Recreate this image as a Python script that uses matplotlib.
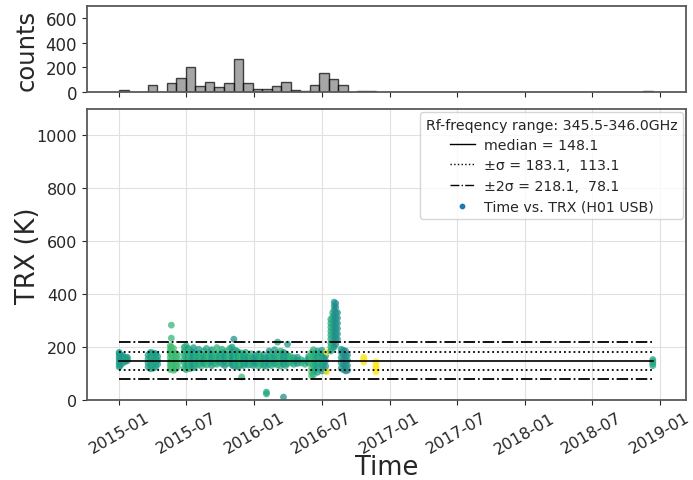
import matplotlib
matplotlib.use("Agg")
import matplotlib.pyplot as plt
import numpy as np
import pandas as pd

# DONNEES

t0 = pd.Timestamp("2015-01-01")  # origine des jours d'observation

# histogramme du haut : numero de bin -> nombre de points
bin_width = 25.75  # jours
n_bins = 56
hist_bins = [0, 3, 5, 6, 7, 8, 9, 10, 11, 12, 13, 14, 15, 16, 17, 18, 19, 20, 21, 22, 23, 25, 26, 55]
hist_counts = [17, 58, 77, 110, 200, 50, 83, 41, 69, 272, 74, 25, 25, 50, 83, 19, 8, 58, 151, 102, 58, 6, 6, 8]

# sessions d'observation : jour (depuis 2015-01-01), valeurs TRX (K), couleur (0-1 viridis)
obs_day = [0, 3, 10, 16, 22,
           78, 85, 92, 99, 104,
           138, 141, 147, 153, 158,
           176, 181, 186, 191, 196, 201, 208, 215, 222, 229, 236, 243, 250, 257, 264, 271,
           278, 285, 292, 299, 305, 310, 314, 318, 322, 326, 331, 336, 342, 349, 356, 363,
           370, 377, 384, 391, 398, 405, 412, 420, 428, 436, 444, 450, 455, 463, 472, 482,
           492, 502, 512,
           520, 525, 530, 536, 543, 548, 553, 558, 561,
           572, 577, 581, 585, 590,
           600, 606, 612, 617,
           661, 694, 1442]
obs_trx = [[125, 135, 145, 155, 165, 175, 180], [130, 150, 160, 170], [140, 150, 160, 168],
           [145, 152, 160], [148, 155, 162],
           [125, 140, 155, 170], [118, 130, 145, 160, 175, 180], [120, 135, 150, 165, 178],
           [125, 140, 155, 170, 175], [135, 150, 165],
           [205, 190, 175, 160, 145, 130, 115], [283, 234, 200, 185, 170, 150, 135, 120],
           [195, 180, 165, 150, 135, 120, 112], [175, 160, 145, 130, 118], [170, 155, 140, 125],
           [120, 140, 155, 170, 185, 200], [115, 130, 145, 160, 175, 190, 205],
           [125, 138, 150, 162, 178, 195], [118, 135, 148, 158, 170, 188],
           [128, 142, 155, 168, 182], [122, 137, 150, 165, 180, 198], [130, 145, 158, 172],
           [135, 150, 163, 178, 192], [128, 142, 156, 170], [138, 150, 165, 185],
           [132, 148, 160, 175, 195], [140, 155, 168, 182], [130, 145, 158, 172, 190],
           [138, 152, 166], [135, 150, 162, 178, 198], [142, 156, 170],
           [136, 150, 164, 180, 192], [130, 145, 160, 175], [138, 152, 168, 185],
           [140, 155, 170, 195], [132, 148, 162, 178, 200], [128, 142, 155, 168, 182, 230],
           [135, 148, 160, 175, 188], [130, 145, 158, 172, 185], [125, 140, 152, 165, 180],
           [132, 146, 160, 175], [87, 135, 150, 162, 178], [130, 145, 158, 170],
           [138, 152, 165, 180], [132, 146, 160], [135, 150, 165, 175], [130, 145, 158],
           [138, 150, 168], [128, 145, 160, 175], [135, 150, 162], [130, 142, 155, 170],
           [23, 30, 128, 145, 160], [135, 150, 165, 185], [130, 148, 160, 175],
           [138, 152, 168, 190], [132, 146, 160, 178, 219], [128, 142, 155, 170, 185],
           [11, 135, 150, 165, 180], [130, 145, 160, 175], [138, 152, 168, 211],
           [140, 155, 165], [135, 148, 160], [138, 150, 162],
           [140, 152], [135, 148], [140, 155, 165],
           [92, 105, 120, 140, 160, 180], [95, 110, 130, 150, 170, 190], [115, 135, 155, 175],
           [105, 125, 145, 165, 185], [120, 140, 160, 178], [110, 130, 150, 170, 188],
           [118, 138, 158, 175], [110, 128, 148, 168], [106, 181],
           [185, 200, 215, 230, 245, 260, 275, 290, 305],
           [195, 210, 225, 240, 255, 270, 285, 300, 315, 330],
           [200, 220, 240, 260, 280, 300, 320, 340, 355, 370],
           [210, 230, 250, 270, 290, 310, 330, 350, 365],
           [230, 250, 270, 290, 310, 330],
           [120, 140, 160, 180, 192], [115, 135, 155, 175, 188], [110, 128, 148, 168, 185],
           [112, 130, 150, 170],
           [143, 150, 157, 162], [106, 115, 125, 135, 145], [130, 138, 146, 153]]
obs_col = [0.55, 0.55, 0.52, 0.58, 0.55,
           0.57, 0.55, 0.6, 0.55, 0.57,
           0.7, 0.67, 0.72, 0.65, 0.7,
           0.6, 0.65, 0.55, 0.67, 0.6, 0.53, 0.63, 0.57, 0.65, 0.55, 0.61, 0.67, 0.55, 0.6, 0.65, 0.57,
           0.63, 0.53, 0.6, 0.67, 0.55, 0.5, 0.6, 0.65, 0.55, 0.63, 0.67, 0.55, 0.6, 0.53, 0.65, 0.57,
           0.5, 0.6, 0.65, 0.55, 0.6, 0.53, 0.63, 0.55, 0.6, 0.65, 0.5, 0.6, 0.55, 0.65, 0.6, 0.53,
           0.6, 0.65, 0.55,
           0.7, 0.65, 0.6, 0.55, 0.63, 0.55, 0.6, 0.5, 1.0,
           0.6, 0.65, 0.55, 0.47, 0.5,
           0.55, 0.5, 0.45, 0.5,
           1.0, 1.0, 0.6]

# statistiques
median = 148.1
sigma_hi, sigma_lo = 183.1, 113.1
sigma2_hi, sigma2_lo = 218.1, 78.1
freq_range = "345.5-346.0GHz"
label_scatter = "Time vs. TRX (H01 USB)"

# STYLE
plt.rcParams["font.family"] = "DejaVu Sans"
plt.rcParams["text.color"] = "0.15"
plt.rcParams["axes.labelcolor"] = "0.15"
plt.rcParams["xtick.color"] = "0.15"
plt.rcParams["ytick.color"] = "0.15"
plt.rcParams["axes.edgecolor"] = "0.35"
plt.rcParams["axes.linewidth"] = 1.3

fig = plt.figure(figsize=(6.93, 4.81), dpi=100)
ax_h = fig.add_axes([0.1255, 0.8067, 0.864, 0.1788])
ax = fig.add_axes([0.1255, 0.1663, 0.864, 0.605], sharex=ax_h)

# HISTOGRAMME
starts = [t0 + pd.Timedelta(days=b * bin_width) for b in hist_bins]
ax_h.bar(starts, hist_counts, width=bin_width, align="edge",
         color="gray", alpha=0.7, edgecolor="k", linewidth=1)
ax_h.set_ylim(0, 700)
ax_h.set_yticks([0, 200, 400, 600])
ax_h.set_ylabel("counts", fontsize=17.5)
ax_h.yaxis.set_label_coords(-0.08, 0.5)
ax_h.tick_params(labelbottom=False, labelsize=12)

# NUAGE DE POINTS
xs, ys, cs = [], [], []
for d, vals, c in zip(obs_day, obs_trx, obs_col):
    for v in vals:
        xs.append(t0 + pd.Timedelta(days=d))
        ys.append(v)
        cs.append(c)
ax.scatter(xs, ys, c=cs, cmap="viridis", vmin=0, vmax=1, s=24, alpha=0.75,
           linewidths=0, zorder=2)
ax.scatter([], [], s=10, color="C0", label=label_scatter)

x_line = [t0 + pd.Timedelta(days=obs_day[0]), t0 + pd.Timedelta(days=obs_day[-1])]
ax.plot(x_line, [median, median], color="k", lw=1.2, zorder=3,
        label="median = %.1f" % median)
ax.plot(x_line, [sigma_hi, sigma_hi], color="k", ls=":", lw=1.3, zorder=3,
        label="\u00b1\u03c3 = %.1f,  %.1f" % (sigma_hi, sigma_lo))
ax.plot(x_line, [sigma_lo, sigma_lo], color="k", ls=":", lw=1.3, zorder=3)
ax.plot(x_line, [sigma2_hi, sigma2_hi], color="k", ls="-.", lw=1.3, zorder=3,
        label="\u00b12\u03c3 = %.1f,  %.1f" % (sigma2_hi, sigma2_lo))
ax.plot(x_line, [sigma2_lo, sigma2_lo], color="k", ls="-.", lw=1.3, zorder=3)

ax.set_ylim(0, 1100)
ax.set_xlim(t0 - pd.Timedelta(days=87), t0 + pd.Timedelta(days=1531))
ax.grid(color="0.88", lw=0.8)
ax.set_axisbelow(True)
ax.set_xlabel("Time", fontsize=18.5)
ax.set_ylabel("TRX (K)", fontsize=18.5)
ax.yaxis.set_label_coords(-0.076, 0.5)
ax.xaxis.set_label_coords(0.5, -0.185)
ax.tick_params(labelsize=11.5)
ticks = pd.date_range("2015-01-01", "2019-01-01", freq="6MS")
ax.set_xticks(ticks)
ax.set_xticklabels([t.strftime("%Y-%m") for t in ticks], rotation=30, ha="center")

h, l = ax.get_legend_handles_labels()
order = [1, 2, 3, 0]
leg = ax.legend([h[i] for i in order], [l[i] for i in order],
                title="Rf-freqency range: " + freq_range, title_fontsize=10.2, fontsize=10.2,
                loc="upper right", labelspacing=0.45, handlelength=1.8, handletextpad=0.6,
                borderaxespad=0.2, framealpha=0.8)
for line in leg.get_lines():
    line.set_linewidth(1.0)

plt.savefig("out.png", dpi=100)
